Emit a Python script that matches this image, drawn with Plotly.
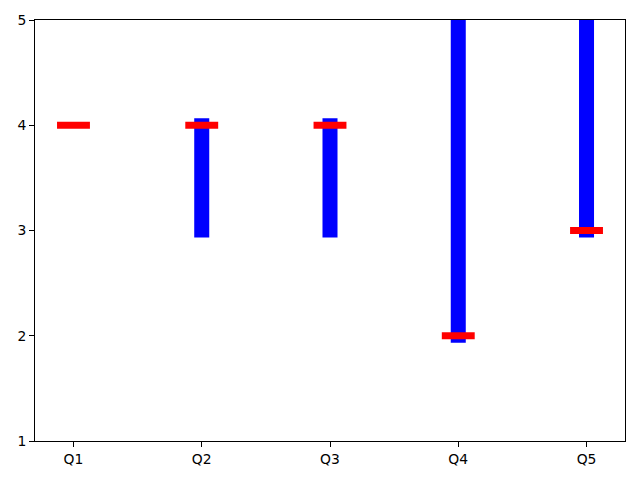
import plotly.graph_objects as go

categories = ["Q1", "Q2", "Q3", "Q4", "Q5"]
range_low = [None, 3, 3, 2, 3]
range_high = [None, 4, 4, 5, 5]
point_values = [4, 4, 4, 2, 3]

fig = go.Figure()

# Blue ranges drawn as very thin bars with thick outline (gives the projecting caps)
fig.add_trace(go.Bar(
    x=categories,
    base=range_low,
    y=[None if lo is None else hi - lo for lo, hi in zip(range_low, range_high)],
    width=0.008,
    marker=dict(color="blue", line=dict(color="blue", width=14)),
    showlegend=False,
    hoverinfo="skip"
))

# Red horizontal markers
fig.add_trace(go.Scatter(
    x=categories,
    y=point_values,
    mode="markers",
    marker=dict(symbol="line-ew", size=23.5, line=dict(color="red", width=7)),
    showlegend=False
))

axis_style = dict(
    showline=True, linecolor="black", linewidth=1, mirror=True,
    ticks="outside", ticklen=5, tickcolor="black",
    showgrid=False, zeroline=False, automargin=False,
    tickfont=dict(family="DejaVu Sans", size=13.9, color="black")
)

# page body adds 8px margin, so figure is 8px smaller and margins shifted
fig.update_layout(
    width=632,
    height=472,
    margin=dict(l=27, r=15, t=12, b=39),
    plot_bgcolor="white",
    paper_bgcolor="white",
    xaxis=dict(range=[-0.3, 4.3], **axis_style),
    yaxis=dict(range=[1, 5], tickvals=[1, 2, 3, 4, 5], **axis_style),
)

fig.write_html("out.html")
